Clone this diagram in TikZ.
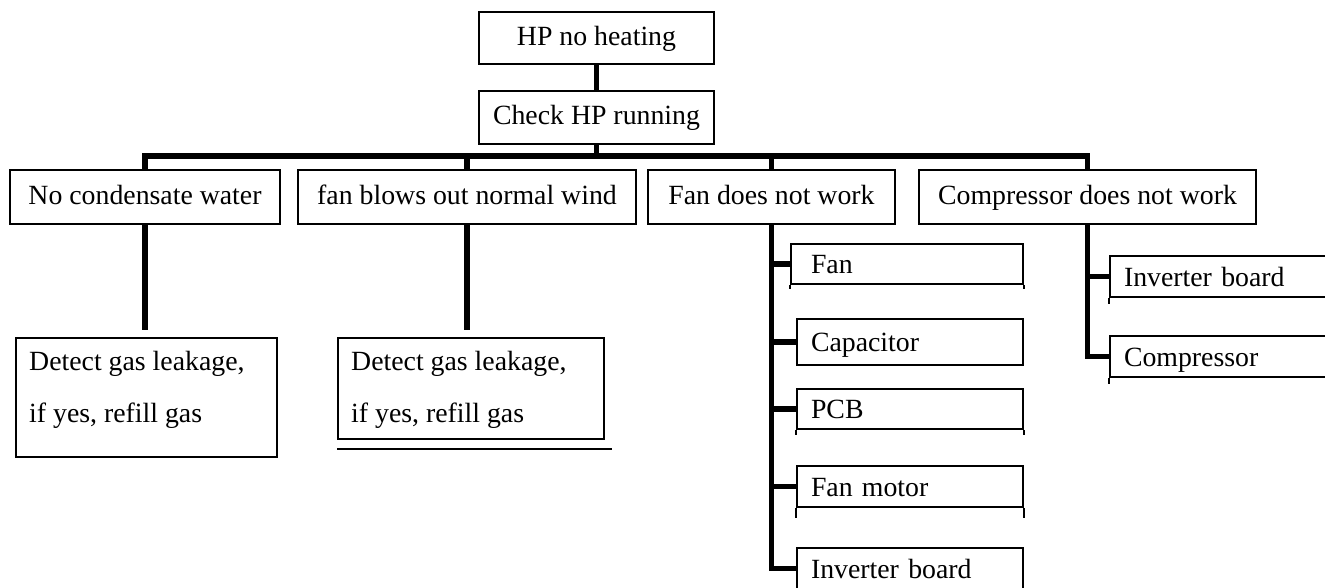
\documentclass[tikz,border=0pt]{standalone}
\usepackage{fontspec}
\setmainfont{Liberation Serif}
\begin{document}
\begin{tikzpicture}[x=1pt,y=-1pt,
  box/.style={draw,line width=2pt,rectangle,inner sep=0pt,anchor=north west,
    font=\fontsize{27.8}{33}\selectfont,text height=21pt,text depth=6pt},
  lbox/.style={box,align=left,inner xsep=14pt,text height=23pt,text depth=4pt},
  txt/.style={inner sep=0pt,anchor=base west,font=\fontsize{27.8}{33}\selectfont},
  conn/.style={line width=5.8pt},
  stub/.style={line width=2pt}]
\clip (0,0) rectangle (1325,588);
% top
\node[box,minimum width=235pt,minimum height=52pt] (hp) at (478,11) {HP no heating};
\node[box,minimum width=235pt,minimum height=53pt] (chk) at (478,90) {Check HP running};
% level 2
\node[box,minimum width=270pt,minimum height=54pt] (ncw) at (9,169) {No condensate water};
\node[box,minimum width=338pt,minimum height=54pt] (fbw) at (297,169) {fan blows out normal wind};
\node[box,minimum width=247pt,minimum height=54pt] (fdn) at (647,169) {Fan does not work};
\node[box,minimum width=337pt,minimum height=54pt] (cdn) at (918,169) {Compressor does not work};
% detect boxes
\node[box,minimum width=261pt,minimum height=119pt] (det1) at (15,337) {};
\node[txt] (det1a) at ([xshift=14pt,yshift=-33pt]det1.north west) {Detect gas leakage,};
\node[txt] (det1b) at ([xshift=14pt,yshift=-85pt]det1.north west) {if yes, refill gas};
\node[box,minimum width=266pt,minimum height=101pt] (det2) at (337,337) {};
\node[txt] (det2a) at ([xshift=14pt,yshift=-33pt]det2.north west) {Detect gas leakage,};
\node[txt] (det2b) at ([xshift=14pt,yshift=-85pt]det2.north west) {if yes, refill gas};
\draw[stub] ([yshift=-9pt]det2.south west) -- ([yshift=-9pt,xshift=7pt]det2.south east);
% fan branch
\node[lbox,inner xsep=20pt,text width=192pt,minimum height=40pt] (fan) at (790,243) {Fan};
\node[lbox,text width=198pt,minimum height=46pt] (cap) at (796,318) {Capacitor};
\node[lbox,text width=198pt,minimum height=40pt] (pcb) at (796,388) {PCB};
\node[lbox,text width=198pt,minimum height=41pt] (fmot) at (796,465) {Fan motor};
\node[lbox,text width=198pt,minimum height=41pt] (ib1) at (796,547) {Inverter board};
% compressor branch
\node[lbox,text width=232pt,minimum height=41pt] (ib2) at (1109,255) {Inverter board};
\node[lbox,text width=232pt,minimum height=41pt] (comp) at (1109,335) {Compressor};
% stubs below boxes
\draw[stub] (fan.south west) -- ++(0,4) (fan.south east) -- ++(0,4);
\draw[stub] (pcb.south west) -- ++(0,5) (pcb.south east) -- ++(0,5);
\draw[stub] (fmot.south west) -- ++(0,10) (fmot.south east) -- ++(0,10);
\draw[stub] (ib2.south west) -- ++(0,6);
\draw[stub] (comp.south west) -- ++(0,6);
% connectors
\coordinate (bus) at (596,156);
\draw[conn] (hp.south) -- (chk.north);
\draw[conn] (chk.south) -- (chk.south |- bus);
\draw[conn] (ncw.north) -- (ncw.north |- bus) -- (cdn.north |- bus) -- (cdn.north);
\draw[conn] (fbw.north |- bus) -- (fbw.north);
\draw[conn] (fdn.north |- bus) -- (fdn.north);
\draw[conn] (ncw.south) -- ([yshift=7pt]ncw.south |- det1.north);
\draw[conn] (fbw.south) -- ([yshift=7pt]fbw.south |- det2.north);
\draw[conn] (fdn.south) -- (fdn.south |- ib1.west) -- (ib1.west);
\draw[conn] (fdn.south |- fan.west) -- (fan.west);
\draw[conn] (fdn.south |- cap.west) -- (cap.west);
\draw[conn] (fdn.south |- pcb.west) -- (pcb.west);
\draw[conn] (fdn.south |- fmot.west) -- (fmot.west);
\draw[conn] (cdn.south) -- (cdn.south |- comp.west) -- (comp.west);
\draw[conn] (cdn.south |- ib2.west) -- (ib2.west);
\end{tikzpicture}
\end{document}
